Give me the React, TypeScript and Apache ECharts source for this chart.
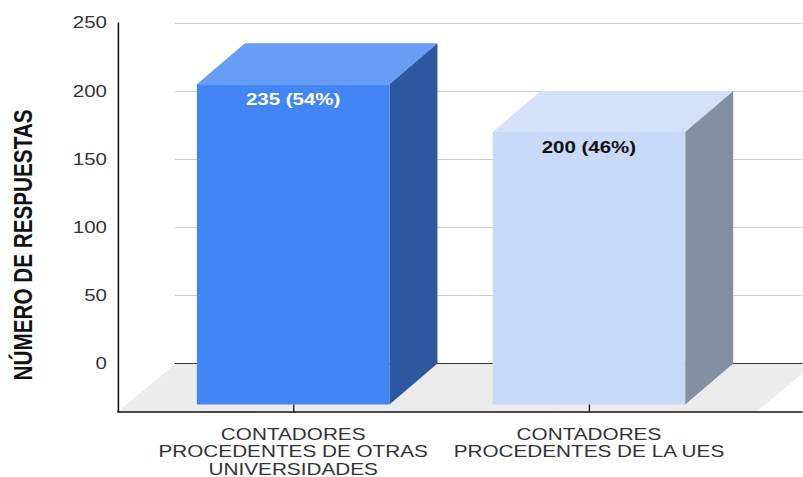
import React, { useEffect, useRef } from "react";
import * as echarts from "echarts";

const categories = [
  "CONTADORES\nPROCEDENTES DE OTRAS\nUNIVERSIDADES",
  "CONTADORES\nPROCEDENTES DE LA UES",
];
const values = [235, 200];
const percents = [54, 46];
const yTicksMax = 250;
const yTicksStep = 50;
const frontColors = ["#4285f4", "#c9daf8"];
const topColors = ["#689df6", "#d4e1fa"];
const sideColors = ["#2c58a1", "#838fa3"];
const labelColors = ["#ffffff", "#111111"];
const yTitle = "NÚMERO DE RESPUESTAS";

// The reference is horizontally stretched; the chart is drawn narrower and stretched the same way.
const W = 803;
const H = 477;
const S = 1.28;
const sx = (v: number) => v / S;
const DEPTH_X = sx(48);
const DEPTH_Y = 41;
const FONT = '"Liberation Sans", Arial, sans-serif';

export default function App() {
  const ref = useRef<HTMLDivElement>(null);
  useEffect(() => {
    const chart = echarts.init(ref.current!, undefined, { renderer: "svg" });
    const wallTop = 22.8;
    const wallH = 340.7;
    const floorDX = sx(57);
    const floorDY = 48;
    chart.setOption({
      animation: false,
      backgroundColor: "#ffffff",
      graphic: [
        {
          type: "text",
          x: sx(23),
          y: 245,
          rotation: Math.PI / 2,
          style: {
            text: yTitle,
            fill: "#111111",
            font: `bold 20.7px ${FONT}`,
            align: "center",
            verticalAlign: "middle",
          },
        },
      ],
      grid: [
        // frame: the L of the two dark axes
        { outerBoundsMode: "none", left: sx(118), width: sx(803 - 118), top: wallTop, height: 411.5 - wallTop },
        // back wall
        { outerBoundsMode: "none", left: sx(175), width: sx(814 - 175), top: wallTop, height: wallH },
        // front plane of the bars
        { outerBoundsMode: "none", left: sx(145.3), width: sx(591.5), top: wallTop + DEPTH_Y, height: wallH },
      ],
      xAxis: [
        {
          gridIndex: 0,
          type: "value",
          min: 0,
          max: 1,
          z: 5,
          axisLine: { show: true, lineStyle: { color: "#111111", width: 1.5 } },
          axisTick: { show: false },
          axisLabel: { show: false },
          splitLine: { show: false },
        },
        {
          gridIndex: 1,
          type: "category",
          data: categories,
          axisLine: { show: true, lineStyle: { color: "#333333", width: 1 } },
          axisTick: { show: false },
          axisLabel: { show: false },
          splitLine: { show: false },
        },
        {
          gridIndex: 2,
          type: "category",
          data: categories,
          offset: 3.5,
          z: 6,
          axisLine: { show: false },
          axisTick: { show: true, alignWithLabel: true, length: 8, lineStyle: { color: "#111111", width: 1 } },
          axisLabel: {
            interval: 0,
            margin: 17.5,
            color: "#333333",
            fontFamily: FONT,
            fontSize: 16.2,
            lineHeight: 17.5,
          },
        },
      ],
      yAxis: [
        {
          gridIndex: 0,
          type: "value",
          min: 0,
          max: 1,
          z: 5,
          axisLine: { show: true, lineStyle: { color: "#111111", width: 1.2 } },
          axisTick: { show: false },
          axisLabel: { show: false },
          splitLine: { show: false },
        },
        {
          gridIndex: 1,
          type: "value",
          min: 0,
          max: yTicksMax,
          interval: yTicksStep,
          axisLine: { show: false },
          axisTick: { show: false },
          axisLabel: { margin: sx(68), color: "#333333", fontFamily: FONT, fontSize: 16 },
          splitLine: { lineStyle: { color: "#cccccc", width: 1 } },
        },
        {
          gridIndex: 2,
          type: "value",
          min: 0,
          max: yTicksMax,
          interval: yTicksStep,
          show: false,
        },
      ],
      series: [
        {
          type: "custom",
          xAxisIndex: 1,
          yAxisIndex: 1,
          z: 1,
          silent: true,
          clip: false,
          data: [[0, 0]],
          renderItem: (params: any) => {
            const c = params.coordSys;
            const b = c.y + c.height;
            return {
              type: "polygon",
              shape: {
                points: [
                  [c.x, b + 0.5],
                  [c.x + c.width, b + 0.5],
                  [c.x + c.width - floorDX, b + floorDY],
                  [c.x - floorDX, b + floorDY],
                ],
              },
              style: { fill: "#ececec" },
            };
          },
        },
        {
          type: "custom",
          xAxisIndex: 2,
          yAxisIndex: 2,
          z: 2,
          silent: true,
          clip: false,
          data: values.map((v, i) => [i, v]),
          renderItem: (params: any, api: any) => {
            const i = params.dataIndex;
            const top = api.coord([api.value(0), api.value(1)]);
            const base = api.coord([api.value(0), 0]);
            const w = api.size([1, 0])[0] * 0.651;
            const l = top[0] - w / 2;
            const r = top[0] + w / 2;
            return {
              type: "group",
              children: [
                {
                  type: "polygon",
                  shape: {
                    points: [
                      [l, top[1]],
                      [l + DEPTH_X, top[1] - DEPTH_Y],
                      [r + DEPTH_X, top[1] - DEPTH_Y],
                      [r, top[1]],
                    ],
                  },
                  style: { fill: topColors[i] },
                },
                {
                  type: "polygon",
                  shape: {
                    points: [
                      [r, top[1]],
                      [r + DEPTH_X, top[1] - DEPTH_Y],
                      [r + DEPTH_X, base[1] - DEPTH_Y],
                      [r, base[1]],
                    ],
                  },
                  style: { fill: sideColors[i] },
                },
                {
                  type: "rect",
                  shape: { x: l, y: top[1], width: w, height: base[1] - top[1] },
                  style: { fill: frontColors[i] },
                },
                {
                  type: "text",
                  x: top[0],
                  y: top[1] + 15,
                  style: {
                    text: `${values[i]} (${percents[i]}%)`,
                    fill: labelColors[i],
                    font: `bold 16px ${FONT}`,
                    align: "center",
                    verticalAlign: "middle",
                  },
                },
              ],
            };
          },
        },
      ],
    });
    return () => chart.dispose();
  }, []);
  return (
    <div
      ref={ref}
      style={{
        position: "fixed",
        left: 0,
        top: 0,
        width: W / S,
        height: H,
        transform: `scaleX(${S})`,
        transformOrigin: "0 0",
      }}
    />
  );
}
